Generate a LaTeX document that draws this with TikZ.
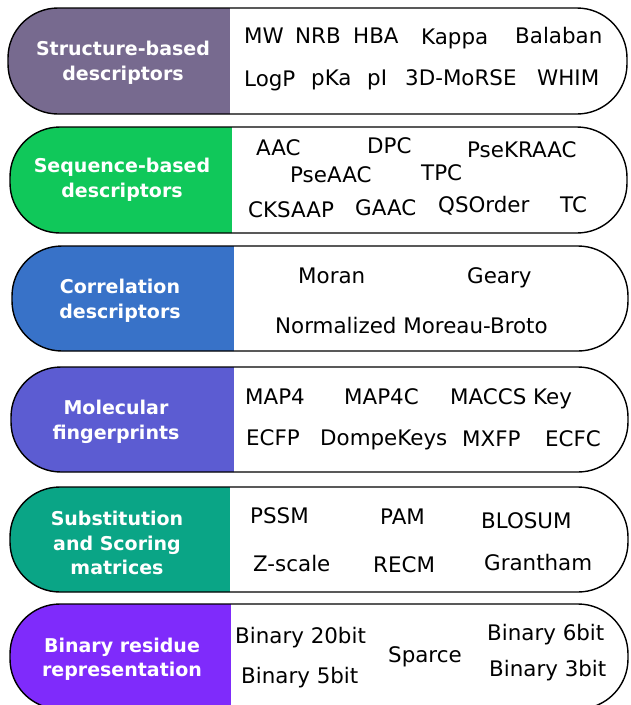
\documentclass[tikz,border=0pt]{standalone}
\usepackage{fontspec}
\setmainfont{DejaVu Sans}
\definecolor{cone}{RGB}{119,106,143}
\definecolor{ctwo}{RGB}{16,200,90}
\definecolor{cthree}{RGB}{56,114,200}
\definecolor{cfour}{RGB}{92,92,210}
\definecolor{cfive}{RGB}{10,165,134}
\definecolor{csix}{RGB}{127,43,251}
\tikzset{
  pillborder/.style={draw=black, line width=1.4pt, rounded corners=50pt},
  item/.style={anchor=west, inner sep=0pt, text height=15.5pt, text depth=0pt, font=\fontsize{21.4}{24}\selectfont},
  catlabel/.style={align=center, text=white, inner sep=0pt, font=\bfseries\fontsize{19}{24.5}\selectfont}
}
\newcommand\mypill[6]{%
  \fill[white, rounded corners=50pt] (#3,#1) rectangle (#4,#2);
  \begin{scope}
    \clip[rounded corners=50pt] (#3,#1) rectangle (#4,#2);
    \fill[#6] (#3-2,#1-2) rectangle (#5,#2+2);
  \end{scope}
  \draw[pillborder] (#3,#1) rectangle (#4,#2);
}
\begin{document}
\begin{tikzpicture}[x=1pt,y=-1pt]
\clip (0,0) rectangle (630,705);
\fill[white] (0,0) rectangle (630,705);
% pills
\mypill{8}{114}{8}{627}{230}{cone}
\mypill{127}{233}{10}{627}{232}{ctwo}
\mypill{246}{351}{12}{628}{234}{cthree}
\mypill{367}{472}{11}{628}{234}{cfour}
\mypill{487}{592}{10}{628}{230}{cfive}
\mypill{604}{709}{10}{628}{231}{csix}
% labels
\node[catlabel] (l1) at (123,63) {Structure-based\\descriptors};
\node[catlabel] (l2) at (122,180) {Sequence-based\\descriptors};
\node[catlabel] (l3) at (120,301) {Correlation\\descriptors};
\node[catlabel] (l4) at (116,422) {Molecular\\fingerprints};
\node[catlabel] (l5) at (117,543) {Substitution\\and Scoring\\matrices};
\node[catlabel] (l6) at (122,659) {Binary residue\\representation};
% pill 1
\node[item] (a1) at (244,36) {MW};
\node[item] (a2) at (295,36) {NRB};
\node[item] (a3) at (353,36) {HBA};
\node[item] (a4) at (421,37) {Kappa};
\node[item] (a5) at (515,36) {Balaban};
\node[item] (a6) at (244,79) {LogP};
\node[item] (a7) at (311,78) {pKa};
\node[item] (a8) at (367,78) {pI};
\node[item] (a9) at (405,78) {3D-MoRSE};
\node[item] (a10) at (537,78) {WHIM};
% pill 2
\node[item] (b1) at (256,148) {AAC};
\node[item] (b2) at (367,146) {DPC};
\node[item] (b3) at (467,150) {PseKRAAC};
\node[item] (b4) at (290,175) {PseAAC};
\node[item] (b5) at (421,173) {TPC};
\node[item] (b6) at (248,210) {CKSAAP};
\node[item] (b7) at (355,208) {GAAC};
\node[item] (b8) at (438,205) {QSOrder};
\node[item] (b9) at (560,205) {TC};
% pill 3
\node[item] (c1) at (298,276) {Moran};
\node[item] (c2) at (467,276) {Geary};
\node[item] (c3) at (275,326) {Normalized Moreau-Broto};
% pill 4
\node[item] (d1) at (245,397) {MAP4};
\node[item] (d2) at (344,397) {MAP4C};
\node[item] (d3) at (450,397) {MACCS Key};
\node[item] (d4) at (246,438) {ECFP};
\node[item] (d5) at (320,438) {DompeKeys};
\node[item] (d6) at (462,439) {MXFP};
\node[item] (d7) at (545,439) {ECFC};
% pill 5
\node[item] (e1) at (250,516) {PSSM};
\node[item] (e2) at (380,517) {PAM};
\node[item] (e3) at (481,521) {BLOSUM};
\node[item] (e4) at (253,564) {Z-scale};
\node[item] (e5) at (373,565) {RECM};
\node[item] (e6) at (484,563) {Grantham};
% pill 6
\node[item] (f1) at (235,636) {Binary 20bit};
\node[item] (f2) at (241,676) {Binary 5bit};
\node[item] (f3) at (388,655) {Sparce};
\node[item] (f4) at (487,633) {Binary 6bit};
\node[item] (f5) at (489,669) {Binary 3bit};
\end{tikzpicture}
\end{document}
